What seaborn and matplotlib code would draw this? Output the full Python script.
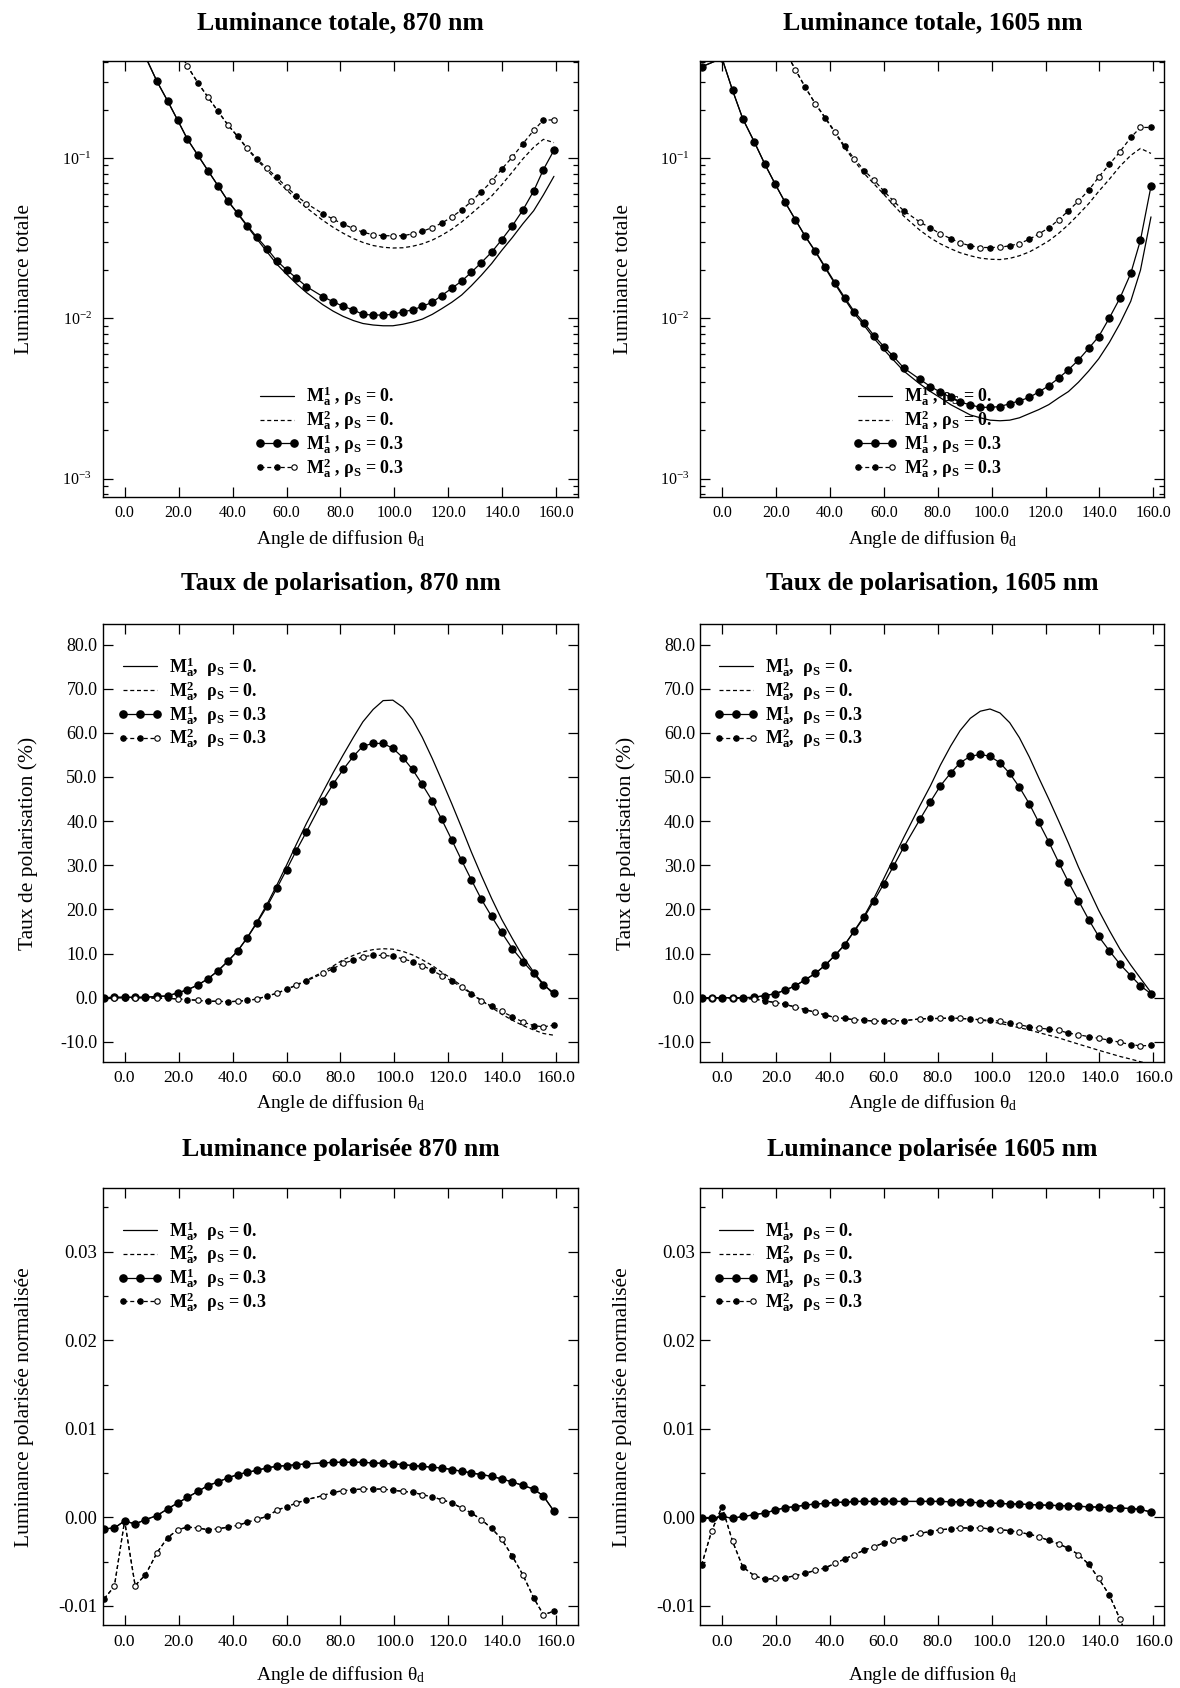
import numpy as np
import pandas as pd
import matplotlib
matplotlib.use("Agg")
import matplotlib.pyplot as plt
import seaborn as sns
from matplotlib.lines import Line2D
from matplotlib.legend_handler import HandlerBase, HandlerLine2D
from matplotlib.ticker import (FixedLocator, FormatStrFormatter, MultipleLocator,
                               LogLocator, NullLocator, NullFormatter)

nan = np.nan

# ---------------- data ----------------
angles = [-7.6, -3.8, 0.0, 3.9, 7.7, 12.0, 15.9, 19.7, 23.3, 27.2, 30.9, 34.6, 38.3,
          41.9, 45.5, 49.1, 52.8, 56.4, 60.0, 63.6, 67.4, 73.4, 77.3, 81.0, 84.8,
          88.3, 92.1, 95.8, 99.4, 103.1, 106.7, 110.3, 114.0, 117.5, 121.2, 124.9,
          128.5, 132.2, 136.0, 139.7, 143.7, 147.6, 151.6, 155.2, 159.1]

x_ticks = [0, 20, 40, 60, 80, 100, 120, 140, 160]

# Luminance totale 870 nm
lt870_m1_r0 = [nan, nan, nan, 0.58, 0.43, 0.301, 0.228, 0.172, 0.131, 0.104, 0.0835, 0.0673,
               0.054, 0.045, 0.0374, 0.0312, 0.026, 0.0218, 0.0189, 0.0165, 0.0145, 0.0122,
               0.0111, 0.0103, 0.0097, 0.0093, 0.0091, 0.0090, 0.0090, 0.0092, 0.0095, 0.0099,
               0.0106, 0.0115, 0.0126, 0.0140, 0.0160, 0.0186, 0.022, 0.0265, 0.032, 0.039,
               0.047, 0.059, 0.077]
lt870_m2_r0 = [nan, nan, nan, nan, nan, nan, nan, 0.49, 0.374, 0.294, 0.240, 0.196, 0.161,
               0.136, 0.114, 0.097, 0.084, 0.0725, 0.0635, 0.0555, 0.049, 0.041, 0.037, 0.0340,
               0.0315, 0.0298, 0.0285, 0.0278, 0.0275, 0.0276, 0.0282, 0.0292, 0.0308, 0.0330,
               0.036, 0.040, 0.045, 0.051, 0.058, 0.068, 0.082, 0.099, 0.117, 0.131, 0.125]
lt870_m1_r3 = [nan, nan, nan, 0.58, 0.43, 0.301, 0.228, 0.172, 0.131, 0.104, 0.0835, 0.0673,
               0.054, 0.0454, 0.0379, 0.032, 0.0272, 0.0229, 0.0201, 0.0179, 0.0158, 0.0137,
               0.0127, 0.0119, 0.0113, 0.0106, 0.0105, 0.0105, 0.0106, 0.0110, 0.0113, 0.0119,
               0.0126, 0.0139, 0.0154, 0.0171, 0.0194, 0.0223, 0.0259, 0.0309, 0.0379, 0.0475,
               0.0624, 0.0849, 0.112]
lt870_m2_r3 = [nan, nan, nan, nan, nan, nan, nan, 0.49, 0.374, 0.294, 0.240, 0.196, 0.161,
               0.137, 0.115, 0.099, 0.0862, 0.0758, 0.066, 0.0583, 0.0521, 0.0451, 0.0416,
               0.0387, 0.0364, 0.0345, 0.0333, 0.0328, 0.0328, 0.0328, 0.0337, 0.0349, 0.0369,
               0.0393, 0.0429, 0.0475, 0.0537, 0.0617, 0.0716, 0.0853, 0.1016, 0.123, 0.149,
               0.173, 0.173]

# Luminance totale 1605 nm
lt1605_m1_r0 = [0.371, nan, 0.42, 0.265, 0.176, 0.126, 0.0916, 0.069, 0.0534, 0.0413, 0.0324,
                0.0261, 0.0206, 0.0164, 0.0132, 0.0107, 0.0090, 0.0075, 0.0064, 0.0055, 0.0047,
                0.0039, 0.0035, 0.0032, 0.0029, 0.0027, 0.0025, 0.0024, 0.00232, 0.0023,
                0.00232, 0.0024, 0.00255, 0.0027, 0.0029, 0.0032, 0.0035, 0.0040, 0.0047,
                0.0056, 0.0071, 0.0093, 0.0128, 0.020, 0.043]
lt1605_m2_r0 = [nan, nan, nan, nan, nan, nan, nan, nan, 0.47, 0.357, 0.276, 0.218, 0.177,
                0.144, 0.116, 0.096, 0.080, 0.069, 0.0595, 0.051, 0.0435, 0.0355, 0.0318,
                0.0292, 0.0272, 0.0257, 0.0246, 0.0238, 0.0234, 0.0233, 0.0237, 0.0246, 0.026,
                0.028, 0.0305, 0.034, 0.0385, 0.0445, 0.052, 0.062, 0.074, 0.089, 0.104,
                0.115, 0.107]
lt1605_m1_r3 = [0.371, nan, 0.42, 0.265, 0.176, 0.126, 0.0916, 0.069, 0.0534, 0.0413, 0.0325,
                0.0263, 0.0209, 0.0167, 0.0135, 0.011, 0.00933, 0.0078, 0.00668, 0.00579,
                0.00491, 0.00417, 0.00376, 0.00347, 0.00322, 0.00301, 0.00289, 0.00279,
                0.00279, 0.00282, 0.00294, 0.00306, 0.00322, 0.00348, 0.0038, 0.00425,
                0.00479, 0.0055, 0.00651, 0.0077, 0.0101, 0.0134, 0.0191, 0.0308, 0.0667]
lt1605_m2_r3 = [nan, nan, nan, nan, nan, nan, nan, nan, 0.47, 0.357, 0.276, 0.219, 0.179,
                0.146, 0.1186, 0.099, 0.0836, 0.0728, 0.0624, 0.054, 0.047, 0.0399, 0.0367,
                0.0337, 0.0315, 0.0296, 0.0284, 0.0277, 0.0277, 0.0278, 0.0284, 0.0293, 0.0312,
                0.0337, 0.0367, 0.0413, 0.047, 0.054, 0.063, 0.0762, 0.0916, 0.1097, 0.1346,
                0.1554, 0.1554]

# Taux de polarisation 870 nm (%)
tp870_m1_r0 = [0.0, 0.1, 0.1, 0.1, 0.1, 0.3, 0.4, 1.1, 1.8, 2.9, 4.3, 6.1, 8.3, 10.6, 13.7,
               17.2, 21.2, 25.5, 30.0, 34.7, 39.5, 46.5, 51.0, 55.0, 59.0, 62.5, 65.3, 67.3,
               67.4, 65.8, 63.0, 59.0, 54.2, 49.3, 44.0, 38.5, 33.0, 27.7, 22.5, 17.8, 13.4,
               9.3, 5.8, 3.1, 0.7]
tp870_m2_r0 = [0.0, 0.0, 0.0, 0.0, 0.0, -0.1, -0.1, -0.3, -0.4, -0.6, -0.8, -0.8, -0.9, -0.8,
               -0.6, -0.3, 0.4, 1.0, 1.9, 2.9, 4.0, 5.8, 7.2, 8.6, 9.6, 10.4, 10.9, 11.1, 11.0,
               10.5, 9.7, 8.6, 7.3, 5.8, 4.3, 2.7, 1.0, -0.6, -2.2, -3.7, -5.1, -6.3, -7.3,
               -8.1, -8.5]
tp870_m1_r3 = [0.0, 0.1, 0.1, 0.1, 0.1, 0.3, 0.4, 1.1, 1.8, 2.9, 4.3, 6.1, 8.3, 10.6, 13.6,
               17.0, 20.7, 24.8, 29.0, 33.3, 37.6, 44.6, 48.4, 51.7, 54.7, 57.0, 57.6, 57.6,
               56.5, 54.4, 51.7, 48.3, 44.6, 40.4, 35.8, 31.1, 26.7, 22.3, 18.4, 14.8, 11.1,
               8.2, 5.5, 2.9, 1.1]
tp870_m2_r3 = [0.0, 0.0, 0.0, 0.0, 0.0, -0.1, -0.1, -0.3, -0.4, -0.6, -0.8, -0.8, -0.9, -0.8,
               -0.6, -0.3, 0.4, 1.0, 1.9, 2.8, 3.8, 5.5, 6.6, 7.8, 8.5, 9.3, 9.6, 9.6, 9.4,
               8.8, 8.2, 7.3, 6.2, 5.0, 3.8, 2.4, 0.9, -0.7, -1.9, -3.1, -4.3, -5.5, -6.3,
               -6.6, -6.2]

# Taux de polarisation 1605 nm (%)
tp1605_m1_r0 = [0.0, 0.0, 0.0, 0.0, 0.0, 0.1, 0.5, 0.9, 1.7, 2.7, 4.1, 5.5, 7.4, 9.6, 12.0,
                15.2, 18.6, 22.6, 27.0, 31.5, 36.3, 43.5, 48.0, 52.7, 57.0, 60.5, 63.3, 64.9,
                65.4, 64.5, 62.3, 58.9, 54.5, 49.8, 45.0, 40.0, 35.0, 29.6, 24.6, 19.8, 15.2,
                11.0, 7.4, 4.4, 1.2]
tp1605_m2_r0 = [0.0, 0.0, 0.0, -0.1, -0.1, -0.3, -0.7, -1.1, -1.5, -2.1, -2.7, -3.3, -3.9,
                -4.5, -4.7, -5.0, -5.1, -5.3, -5.3, -5.2, -5.2, -4.8, -4.7, -4.7, -4.6, -4.7,
                -4.8, -5.0, -5.4, -5.8, -6.3, -6.8, -7.3, -7.9, -8.5, -9.1, -9.8, -10.5,
                -11.2, -11.9, -12.6, -13.3, -13.9, -14.5, -15.1]
tp1605_m1_r3 = [0.0, 0.0, 0.0, 0.0, 0.0, 0.1, 0.5, 0.9, 1.7, 2.7, 4.1, 5.5, 7.4, 9.6, 12.0,
                15.1, 18.3, 22.0, 25.8, 29.8, 34.1, 40.4, 44.4, 48.0, 50.9, 53.2, 54.7, 55.1,
                54.7, 53.2, 50.8, 47.7, 43.9, 39.7, 35.3, 30.6, 26.2, 22.0, 17.7, 13.9, 10.6,
                7.6, 5.0, 2.7, 0.9]
tp1605_m2_r3 = [0.0, 0.0, 0.0, -0.1, -0.1, -0.3, -0.7, -1.1, -1.5, -2.1, -2.7, -3.3, -3.9,
                -4.5, -4.7, -5.0, -5.1, -5.3, -5.3, -5.2, -5.2, -4.8, -4.7, -4.7, -4.6, -4.7,
                -4.8, -5.0, -5.1, -5.3, -5.8, -6.1, -6.6, -6.9, -7.1, -7.4, -8.0, -8.4, -8.8,
                -9.2, -9.6, -10.1, -10.6, -10.9, -10.8]

# Luminance polarisee normalisee (identical for rho_S = 0 and 0.3)
lp870_m1 = [-0.0013, -0.0012, -0.0004, -0.00075, -0.00026, 0.0002, 0.00095, 0.00163, 0.00226,
            0.00294, 0.00359, 0.0040, 0.00446, 0.00483, 0.00509, 0.00532, 0.00559, 0.00577,
            0.00585, 0.00595, 0.00604, 0.00615, 0.00622, 0.00622, 0.00622, 0.00622, 0.00615,
            0.0061, 0.00604, 0.00596, 0.00585, 0.00577, 0.00566, 0.00559, 0.0054, 0.00521,
            0.00502, 0.00483, 0.00464, 0.00434, 0.0040, 0.0036, 0.0032, 0.0024, 0.0007]
lp870_m2 = [-0.0092, -0.0078, -0.0004, -0.0077, -0.0065, -0.0040, -0.0023, -0.0014, -0.0011,
            -0.0012, -0.0014, -0.0013, -0.0011, -0.0009, -0.00056, -0.0002, 0.0001, 0.0008,
            0.0012, 0.0016, 0.0020, 0.00245, 0.00283, 0.0030, 0.00313, 0.0032, 0.0032, 0.0032,
            0.00306, 0.00294, 0.00283, 0.00257, 0.00231, 0.0020, 0.00163, 0.00106, 0.0005,
            -0.00026, -0.00124, -0.00244, -0.0044, -0.0065, -0.0091, -0.0110, -0.0106]
lp1605_m1 = [-0.0001, -0.0001, 0.0001, -0.0001, 0.0001, 0.0003, 0.0005, 0.0008, 0.0011, 0.0012,
             0.0014, 0.0015, 0.0016, 0.0017, 0.0017, 0.0018, 0.0018, 0.0018, 0.0018, 0.0018,
             0.0018, 0.0018, 0.0018, 0.0018, 0.00177, 0.00175, 0.0017, 0.00166, 0.0016,
             0.00157, 0.00153, 0.0015, 0.00145, 0.0014, 0.00137, 0.00133, 0.0013, 0.00125,
             0.0012, 0.00115, 0.0011, 0.00105, 0.001, 0.0009, 0.0006]
lp1605_m2 = [-0.0054, -0.0015, 0.0012, -0.0027, -0.0056, -0.0066, -0.0070, -0.0069, -0.0068,
             -0.0066, -0.0063, -0.0060, -0.0057, -0.0052, -0.0047, -0.0042, -0.0037, -0.0033,
             -0.0029, -0.0026, -0.0023, -0.0018, -0.0016, -0.0014, -0.0013, -0.0012, -0.0012,
             -0.0012, -0.0013, -0.0014, -0.0015, -0.0017, -0.0019, -0.0022, -0.0026, -0.0030,
             -0.0035, -0.0042, -0.0053, -0.0069, -0.0088, -0.0115, -0.0145, -0.018, -0.022]

titles = ["Luminance totale, 870 nm", "Luminance totale, 1605 nm",
          "Taux de polarisation, 870 nm", "Taux de polarisation, 1605 nm",
          "Luminance polarisée 870 nm", "Luminance polarisée 1605 nm"]
ylabels = ["Luminance totale", "Taux de polarisation (%)", "Luminance polarisée normalisée"]
xlabel = "Angle de diffusion θ$_\\mathrm{d}$"

legend_row1 = [r"$\mathbf{M}_\mathbf{a}^\mathbf{1}$ , ρ$_\mathbf{S}$ = 0.",
               r"$\mathbf{M}_\mathbf{a}^\mathbf{2}$ , ρ$_\mathbf{S}$ = 0.",
               r"$\mathbf{M}_\mathbf{a}^\mathbf{1}$ , ρ$_\mathbf{S}$ = 0.3",
               r"$\mathbf{M}_\mathbf{a}^\mathbf{2}$ , ρ$_\mathbf{S}$ = 0.3"]
legend_rows23 = [r"$\mathbf{M}_\mathbf{a}^\mathbf{1}$,  ρ$_\mathbf{S}$ = 0.",
                 r"$\mathbf{M}_\mathbf{a}^\mathbf{2}$,  ρ$_\mathbf{S}$ = 0.",
                 r"$\mathbf{M}_\mathbf{a}^\mathbf{1}$,  ρ$_\mathbf{S}$ = 0.3",
                 r"$\mathbf{M}_\mathbf{a}^\mathbf{2}$,  ρ$_\mathbf{S}$ = 0.3"]

# ---------------- style ----------------
sns.set_style("ticks")
plt.rcParams.update({
    "font.family": ["Liberation Serif", "DejaVu Serif"],
    "mathtext.fontset": "custom",
    "mathtext.rm": "Liberation Serif",
    "mathtext.it": "Liberation Serif:italic",
    "mathtext.bf": "Liberation Serif:bold",
    "axes.unicode_minus": False,
    "axes.edgecolor": "black",
    "axes.linewidth": 1.0,
    "xtick.color": "black",
    "ytick.color": "black",
    "text.color": "black",
    "axes.labelcolor": "black",
})

LW = 0.9
DASH = (0, (3.2, 2.2))
MS1 = 5.2
MS2 = 3.9


class MixedMarkerHandler(HandlerBase):
    def create_artists(self, legend, orig_handle, xdescent, ydescent, width, height,
                       fontsize, trans):
        xs = np.linspace(-xdescent, -xdescent + width, 3)
        ys = np.full(3, (height - ydescent) / 2)
        line = Line2D(xs, ys, color="black", lw=LW, linestyle=DASH, transform=trans)
        filled = Line2D(xs[:2], ys[:2], ls="none", marker="o", ms=MS2, mfc="black",
                        mec="black", mew=0.8, transform=trans)
        opened = Line2D(xs[2:], ys[2:], ls="none", marker="o", ms=MS2, mfc="white",
                        mec="black", mew=0.8, transform=trans)
        return [line, filled, opened]


def draw_series(ax, m1r0, m2r0, m1r3, m2r3):
    df = pd.DataFrame({"angle": angles, "m1r0": m1r0, "m2r0": m2r0,
                       "m1r3": m1r3, "m2r3": m2r3})
    common = dict(data=df, x="angle", ax=ax, estimator=None, sort=False,
                  color="black", linewidth=LW)
    sns.lineplot(y="m1r0", **common)
    sns.lineplot(y="m2r0", linestyle=DASH, **common)
    sns.lineplot(y="m1r3", marker="o", markersize=MS1, markerfacecolor="black",
                 markeredgecolor="black", markeredgewidth=0.8, **common)
    sns.lineplot(y="m2r3", linestyle=DASH, marker="o", markersize=MS2,
                 markerfacecolor="black", markeredgecolor="black", markeredgewidth=0.8,
                 markevery=(0, 2), **common)
    sns.lineplot(y="m2r3", linestyle="none", marker="o", markersize=MS2,
                 markerfacecolor="white", markeredgecolor="black", markeredgewidth=0.8,
                 markevery=(1, 2), **common)


def add_legend(ax, labels, anchor):
    h1 = Line2D([], [], color="black", lw=LW)
    h2 = Line2D([], [], color="black", lw=LW, linestyle=DASH)
    h3 = Line2D([], [], color="black", lw=LW, marker="o", ms=MS1, mfc="black", mec="black")
    h4 = Line2D([], [], color="black", lw=LW, linestyle=DASH)
    ax.legend([h1, h2, h3, h4], labels,
              handler_map={h1: HandlerLine2D(marker_pad=0), h2: HandlerLine2D(marker_pad=0),
                           h3: HandlerLine2D(marker_pad=0), h4: MixedMarkerHandler()},
              numpoints=3, frameon=False, loc="upper left", bbox_to_anchor=anchor,
              borderaxespad=0, borderpad=0, handlelength=1.9, handletextpad=0.65,
              labelspacing=0.0,
              prop={"family": "Liberation Serif", "weight": "bold", "size": 13})


fig = plt.figure(figsize=(11.8, 16.88), dpi=100)
fig.patch.set_facecolor("white")

cols = [(0.0873, 0.4025), (0.5936, 0.3930)]
rows = [(0.7056, 0.2581), (0.3710, 0.2592), (0.0371, 0.2591)]
xlims = [(-8, 168), (-8, 164)]

panels = [
    [(lt870_m1_r0, lt870_m2_r0, lt870_m1_r3, lt870_m2_r3),
     (lt1605_m1_r0, lt1605_m2_r0, lt1605_m1_r3, lt1605_m2_r3)],
    [(tp870_m1_r0, tp870_m2_r0, tp870_m1_r3, tp870_m2_r3),
     (tp1605_m1_r0, tp1605_m2_r0, tp1605_m1_r3, tp1605_m2_r3)],
    [(lp870_m1, lp870_m2, lp870_m1, lp870_m2),
     (lp1605_m1, lp1605_m2, lp1605_m1, lp1605_m2)],
]

xtick_sizes = [11.5, 12.5, 12.5]
ytick_sizes = [11.5, 13, 13.5]
title_pads = [23, 25, 23]
xlabel_y = [-0.072, -0.068, -0.088]
ylabel_x = [[-0.146, -0.146], [-0.137, -0.139], [-0.145, -0.148]]
legend_anchor = [[(0.330, 0.258), (0.340, 0.258)],
                 [(0.042, 0.93), (0.040, 0.93)],
                 [(0.042, 0.93), (0.040, 0.93)]]

for r in range(3):
    for c in range(2):
        ax = fig.add_axes([cols[c][0], rows[r][0], cols[c][1], rows[r][1]])
        ax.set_facecolor("white")
        if r == 0:
            ax.set_yscale("log")
        draw_series(ax, *panels[r][c])
        ax.set_xlim(*xlims[c])
        ax.xaxis.set_major_locator(FixedLocator(x_ticks))
        ax.xaxis.set_major_formatter(FormatStrFormatter("%.1f"))
        ax.xaxis.set_minor_locator(NullLocator())
        if r == 0:
            ax.set_ylim(7.7e-4, 0.402)
            ax.yaxis.set_major_locator(LogLocator(base=10, numticks=10))
            ax.yaxis.set_minor_locator(LogLocator(base=10, subs=np.arange(2, 10), numticks=20))
            ax.yaxis.set_minor_formatter(NullFormatter())
        elif r == 1:
            ax.set_ylim(-14.5, 84.6)
            ax.yaxis.set_major_locator(MultipleLocator(10))
            ax.yaxis.set_major_formatter(FormatStrFormatter("%.1f"))
            ax.yaxis.set_minor_locator(NullLocator())
        else:
            ax.set_ylim(-0.0122, 0.0372)
            ax.yaxis.set_major_locator(MultipleLocator(0.01))
            ax.yaxis.set_major_formatter(FormatStrFormatter("%.2f"))
            ax.yaxis.set_minor_locator(MultipleLocator(0.005))
        ax.tick_params(which="both", direction="in", top=True, right=True, width=0.9,
                       color="black")
        ax.tick_params(which="major", length=7)
        ax.tick_params(which="minor", length=3.5)
        ax.tick_params(axis="x", labelsize=xtick_sizes[r], pad=6)
        ax.tick_params(axis="y", labelsize=ytick_sizes[r], pad=4 if r else 8)
        for sp in ax.spines.values():
            sp.set_visible(True)
            sp.set_color("black")
            sp.set_linewidth(1.0)
        ax.set_title(titles[2 * r + c], fontsize=18.5, fontweight="bold",
                     pad=title_pads[r])
        ax.set_xlabel(xlabel, fontsize=14)
        ax.xaxis.set_label_coords(0.5, xlabel_y[r])
        ax.set_ylabel(ylabels[r], fontsize=15.5)
        ax.yaxis.set_label_coords(ylabel_x[r][c], 0.5)
        add_legend(ax, legend_row1 if r == 0 else legend_rows23, legend_anchor[r][c])

fig.savefig("out.png", dpi=100, facecolor="white")
